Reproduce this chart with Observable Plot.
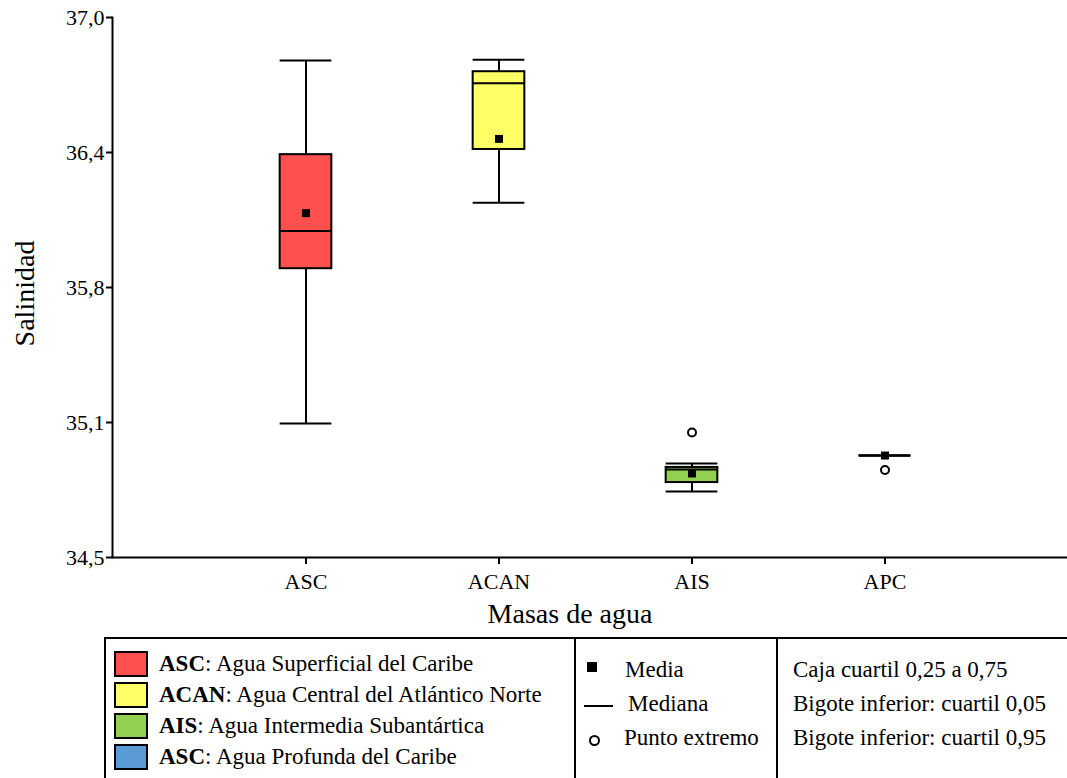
<!DOCTYPE html>
<html>
<head>
<meta charset="utf-8">
<script src="https://cdn.jsdelivr.net/npm/d3@7"></script>
<script src="https://cdn.jsdelivr.net/npm/@observablehq/plot@0.6"></script>
<style>
  html, body { margin: 0; padding: 0; background: #fff; overflow: hidden; }
  #wrap { position: relative; width: 1067px; height: 778px; overflow: hidden; font-family: "Liberation Serif", "Times New Roman", serif; color: #000; }
  #chart svg { display: block; font-family: "Liberation Serif", "Times New Roman", serif !important; }
  #chart svg text { font-family: "Liberation Serif", "Times New Roman", serif; }
  #leyenda { position: absolute; left: 104px; top: 637px; width: 1000px; height: 200px; border: 2px solid #000; box-sizing: border-box; font-size: 23px; }
  #leyenda .div { position: absolute; top: 0; bottom: 0; width: 0; border-left: 2px solid #000; }
  #leyenda .t { position: absolute; white-space: nowrap; line-height: 1; }
  #leyenda .sw { position: absolute; width: 30px; height: 22px; border: 2px solid #000; }
</style>
</head>
<body>
<div id="wrap">
  <div id="chart"></div>
  <div id="leyenda"></div>
</div>
<script>
// Masas de agua y estadísticos de salinidad
const masas = ["ASC", "ACAN", "AIS", "APC"];
const bigoteInf = [35.12, 36.142, 34.806, 34.972];
const cuartil25 = [35.837, 36.389, 34.847, 34.972];
const mediana = [36.012, 36.696, 34.907, 34.972];
const cuartil75 = [36.365, 36.749, 34.917, 34.972];
const bigoteSup = [36.801, 36.804, 34.935, 34.972];
const media = [36.094, 36.438, 34.889, 34.972];
const colores = ["#FF5050", "#FFFF66", "#92D050", "#5B9BD5"];

// Puntos extremos
const extremoMasa = ["AIS", "APC"];
const extremoValor = [35.079, 34.905];

// Marcas del eje de salinidad
const yTicks = [34.5, 35.125, 35.75, 36.375, 37.0];
const yTickLabels = ["34,5", "35,1", "35,8", "36,4", "37,0"];

// Textos de la leyenda
const leyendaSiglas = ["ASC", "ACAN", "AIS", "ASC"];
const leyendaNombres = ["Agua Superficial del Caribe", "Agua Central del Atlántico Norte", "Agua Intermedia Subantártica", "Agua Profunda del Caribe"];
const leyendaSimbolos = ["Media", "Mediana", "Punto extremo"];
const leyendaNotas = ["Caja cuartil 0,25 a 0,75", "Bigote inferior: cuartil 0,05", "Bigote inferior: cuartil 0,95"];

const stats = masas.map((m, i) => ({
  masa: m, low: bigoteInf[i], q1: cuartil25[i], med: mediana[i],
  q3: cuartil75[i], high: bigoteSup[i], mean: media[i], color: colores[i]
}));
const extremos = extremoMasa.map((m, i) => ({masa: m, valor: extremoValor[i]}));

const step = 193.33;
const boxW = 52;
const side = (step - boxW) / 2;
const serif = '"Liberation Serif", "Times New Roman", serif';

const chart = Plot.plot({
  width: 1067,
  height: 637,
  marginTop: 17,
  marginLeft: 112,
  marginRight: 0,
  marginBottom: 80,
  style: {fontFamily: serif, background: "#fff", color: "#000"},
  x: {type: "band", domain: masas, range: [305 - step / 2, 305 + step * 3.5], padding: 0},
  y: {domain: [34.5, 37.0]},
  color: {type: "identity"},
  marks: [
    Plot.ruleX(stats, {x: "masa", y1: "low", y2: "high", stroke: "#000", strokeWidth: 2}),
    Plot.tickY(stats, {x: "masa", y: "low", stroke: "#000", strokeWidth: 2, insetLeft: side, insetRight: side}),
    Plot.tickY(stats, {x: "masa", y: "high", stroke: "#000", strokeWidth: 2, insetLeft: side, insetRight: side}),
    Plot.barY(stats.filter(d => d.q3 > d.q1), {x: "masa", y1: "q1", y2: "q3", fill: "color", stroke: "#000", strokeWidth: 2, insetLeft: side, insetRight: side}),
    Plot.tickY(stats, {x: "masa", y: "med", stroke: "#000", strokeWidth: 2, insetLeft: side, insetRight: side}),
    Plot.dot(stats, {x: "masa", y: "mean", symbol: "square", r: 4.5, fill: "#000", stroke: "none"}),
    Plot.dot(extremos, {x: "masa", y: "valor", symbol: "circle", r: 4, fill: "#fff", stroke: "#000", strokeWidth: 2}),
    Plot.frame({anchor: "left", stroke: "#000", strokeWidth: 2}),
    Plot.frame({anchor: "bottom", stroke: "#000", strokeWidth: 2}),
    Plot.axisY({ticks: yTicks, tickFormat: (d) => yTickLabels[yTicks.indexOf(d)], tickSize: 6, tickPadding: 2, fontSize: 22, strokeWidth: 2, label: null}),
    Plot.axisX({tickSize: 7, tickPadding: 9, fontSize: 22, strokeWidth: 2, label: null}),
    Plot.text(["Salinidad"], {frameAnchor: "left", textAnchor: "middle", lineAnchor: "middle", dx: -87, dy: 6, rotate: -90, fontSize: 28}),
    Plot.text(["Masas de agua"], {frameAnchor: "bottom", textAnchor: "middle", lineAnchor: "middle", dx: -20, dy: 57, fontSize: 28})
  ]
});
document.getElementById("chart").appendChild(chart);

// Leyenda en tabla bajo el gráfico
const ley = document.getElementById("leyenda");
const add = (html) => ley.insertAdjacentHTML("beforeend", html);
const ox = 106, oy = 639; // origen interior de la caja
leyendaSiglas.forEach((s, i) => {
  const top = 651 + i * 31;
  add(`<div class="sw" style="left:${114 - ox}px;top:${top - oy}px;background:${colores[i]}"></div>`);
  add(`<div class="t" style="left:${159 - ox}px;top:${top + 1 - oy}px"><b>${s}</b>: ${leyendaNombres[i]}</div>`);
});
add(`<div class="div" style="left:${574 - ox}px"></div>`);
add(`<div class="div" style="left:${776 - ox}px"></div>`);
// Símbolos
add(`<div style="position:absolute;left:${587 - ox}px;top:${662 - oy}px;width:10px;height:10px;background:#000"></div>`);
add(`<div style="position:absolute;left:${584 - ox}px;top:${705 - oy}px;width:29px;height:2px;background:#000"></div>`);
add(`<div style="position:absolute;left:${589 - ox}px;top:${735 - oy}px;width:7px;height:7px;border:2px solid #000;border-radius:50%"></div>`);
const simX = [625, 628, 624];
leyendaSimbolos.forEach((s, i) => {
  add(`<div class="t" style="left:${simX[i] - ox}px;top:${658 + i * 34 - oy}px">${s}</div>`);
});
leyendaNotas.forEach((s, i) => {
  add(`<div class="t" style="left:${793 - ox}px;top:${658 + i * 34 - oy}px">${s}</div>`);
});
</script>
</body>
</html>
